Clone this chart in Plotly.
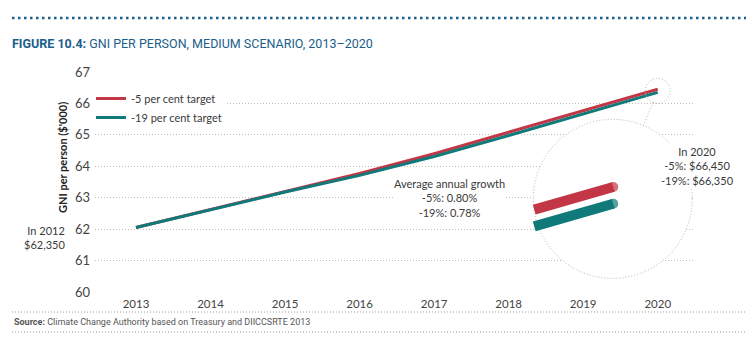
import plotly.graph_objects as go

# ---------------- data ----------------
years = [2013, 2014, 2015, 2016, 2017, 2018, 2019, 2020]
target_5 = [62.05, 62.63, 63.21, 63.77, 64.40, 65.08, 65.77, 66.45]
target_19 = [62.05, 62.62, 63.18, 63.71, 64.31, 64.98, 65.67, 66.35]
series_names = ["-5 per cent target", "-19 per cent target"]
y_ticks = [60, 61, 62, 63, 64, 65, 66, 67]
growth_text = ["Average annual growth", "-5%: 0.80%", "-19%: 0.78%"]
end_text = ["In 2020", "-5%: $66,450", "-19%: $66,350"]
start_text = ["In 2012", "$62,350"]

RED = "#c23645"
TEAL = "#10797a"
BLUE = "#1b5e8c"
TXT = "#3a3a3a"
FONT = "Lato"
NARROW = "Roboto"

# the page body has an 8px margin: the figure is drawn 8px smaller and all
# pixel positions below are given in window coordinates minus this offset
OFF = 8
W, H = 754 - OFF, 359 - OFF
ML, MR, MT, MB = 95 - OFF, 59, 72 - OFF, 67
PW, PH = W - ML - MR, H - MT - MB
x_range = [2012.45, 2020.5]
y_range = [60, 67]
sx = PW / (x_range[1] - x_range[0])   # px per year
sy = PH / (y_range[1] - y_range[0])   # px per unit

fig = go.Figure()
fig.add_trace(go.Scatter(x=years, y=target_5, mode="lines", name=series_names[0],
                         line=dict(color=RED, width=3)))
fig.add_trace(go.Scatter(x=years, y=target_19, mode="lines", name=series_names[1],
                         line=dict(color=TEAL, width=3)))

# ---------------- magnifier (derived from the data end points) ----------------
ax_x = years[-1]
ax_y = (target_5[-1] + target_19[-1]) / 2
k = 5.3
tgt_dx, tgt_dy = -44.5, -104.5          # pixel offset of magnified view (up positive)
x_start = 2019.8


def interp(series, x):
    i = years.index(int(x))
    f = x - years[i]
    return series[i] + f * (series[i + 1] - series[i])


for s, col in ((target_5, RED), (target_19, TEAL)):
    xs = [x_start, years[-1]]
    ys = [interp(s, x_start), s[-1]]
    mx = [ax_x + tgt_dx / sx + k * (x - ax_x) for x in xs]
    my = [ax_y + tgt_dy / sy + k * (y - ax_y) for y in ys]
    fig.add_trace(go.Scatter(x=mx, y=my, mode="lines+markers", showlegend=False,
                             hoverinfo="skip",
                             line=dict(color=col, width=10),
                             marker=dict(size=[0, 10], color=col, line=dict(width=0))))

small_r, big_r = 12.5, 79.5
big_dx, big_dy = -45, -108
circ_line = dict(color="#b5b5b5", width=1, dash="1px,2px")
shapes = [
    dict(type="circle", xref="x", yref="y", xsizemode="pixel", ysizemode="pixel",
         xanchor=ax_x, yanchor=ax_y,
         x0=big_dx - big_r, x1=big_dx + big_r, y0=big_dy - big_r, y1=big_dy + big_r,
         fillcolor="white", line=circ_line, layer="between"),
    dict(type="circle", xref="x", yref="y", xsizemode="pixel", ysizemode="pixel",
         xanchor=ax_x, yanchor=ax_y,
         x0=-small_r, x1=small_r, y0=-small_r, y1=small_r,
         line=circ_line, layer="above"),
]
d = (big_dx ** 2 + big_dy ** 2) ** 0.5
ux, uy = big_dx / d, big_dy / d
shapes.append(dict(type="line", xref="x", yref="y", xsizemode="pixel", ysizemode="pixel",
                   xanchor=ax_x, yanchor=ax_y,
                   x0=ux * small_r, y0=uy * small_r,
                   x1=big_dx - ux * big_r, y1=big_dy - uy * big_r,
                   line=circ_line, layer="above"))


def px2paper_x(px):
    return (px - OFF - ML) / PW


def px2paper_y(py):
    return (H - MB - (py - OFF)) / PH


shapes.append(dict(type="line", xref="paper", yref="paper",
                   x0=px2paper_x(12), x1=px2paper_x(751), y0=px2paper_y(18), y1=px2paper_y(18),
                   line=dict(color=BLUE, width=2.5, dash="2.5px,3.5px")))
for yy in (312, 332):
    shapes.append(dict(type="line", xref="paper", yref="paper",
                       x0=px2paper_x(12), x1=px2paper_x(751), y0=px2paper_y(yy), y1=px2paper_y(yy),
                       line=dict(color="#9a9a9a", width=1, dash="1px,2px")))

annotations = [
    dict(x=2017.2, y=63.0, xref="x", yref="y", text="<br>".join(growth_text),
         xanchor="center", yanchor="middle",
         showarrow=False, align="center", bgcolor="white", borderpad=0,
         font=dict(family=FONT, size=11, color=TXT)),
    dict(x=px2paper_x(698), y=px2paper_y(165.5), xref="paper", yref="paper",
         xanchor="center", yanchor="middle",
         text="<br>".join(end_text), showarrow=False, align="center",
         bgcolor="white", borderpad=0, font=dict(family=FONT, size=11, color=TXT)),
    dict(x=px2paper_x(67), y=px2paper_y(237.5), xref="paper", yref="paper",
         text="<br>".join(start_text), showarrow=False, align="right",
         xanchor="right", yanchor="middle",
         font=dict(family=FONT, size=11, color=TXT)),
    dict(x=px2paper_x(62), y=px2paper_y(158), xref="paper", yref="paper",
         xanchor="center", yanchor="middle",
         text="<b>GNI per person ($'000)</b>", textangle=-90, showarrow=False,
         font=dict(family=FONT, size=11, color="#222")),
    dict(x=px2paper_x(12), y=px2paper_y(322), xref="paper", yref="paper",
         xanchor="left", yanchor="middle",
         text="<b>Source:</b> Climate Change Authority based on Treasury and DIICCSRTE 2013",
         showarrow=False, font=dict(family=NARROW, size=9, color="#555")),
]

fig.update_layout(
    width=W, height=H, margin=dict(l=ML, r=MR, t=MT, b=MB),
    paper_bgcolor="white", plot_bgcolor="white",
    title=dict(text="<b>FIGURE 10.4:</b> GNI PER PERSON, MEDIUM SCENARIO, 2013–2020",
               x=(12 - OFF) / W, xanchor="left", y=1 - (44 - OFF) / H, yanchor="middle",
               font=dict(family=NARROW, size=12.5, color=BLUE)),
    xaxis=dict(range=x_range, tickvals=years, ticktext=[str(y) for y in years],
               showgrid=False, zeroline=False, showline=False, ticks="",
               ticklabelstandoff=3,
               tickfont=dict(family=FONT, size=11.5, color="#444")),
    yaxis=dict(range=y_range, tickvals=y_ticks, showgrid=True, gridcolor="#bdbdbd",
               gridwidth=1, griddash="1px,2px", zeroline=False, showline=False, ticks="",
               ticklabelstandoff=4,
               tickfont=dict(family=FONT, size=13, color="#444")),
    legend=dict(x=px2paper_x(91), y=px2paper_y(84), xanchor="left", yanchor="top",
                bgcolor="white", font=dict(family=FONT, size=11, color=TXT),
                itemwidth=30, tracegroupgap=0),
    shapes=shapes, annotations=annotations,
    showlegend=True,
)

fig.write_html("out.html")
